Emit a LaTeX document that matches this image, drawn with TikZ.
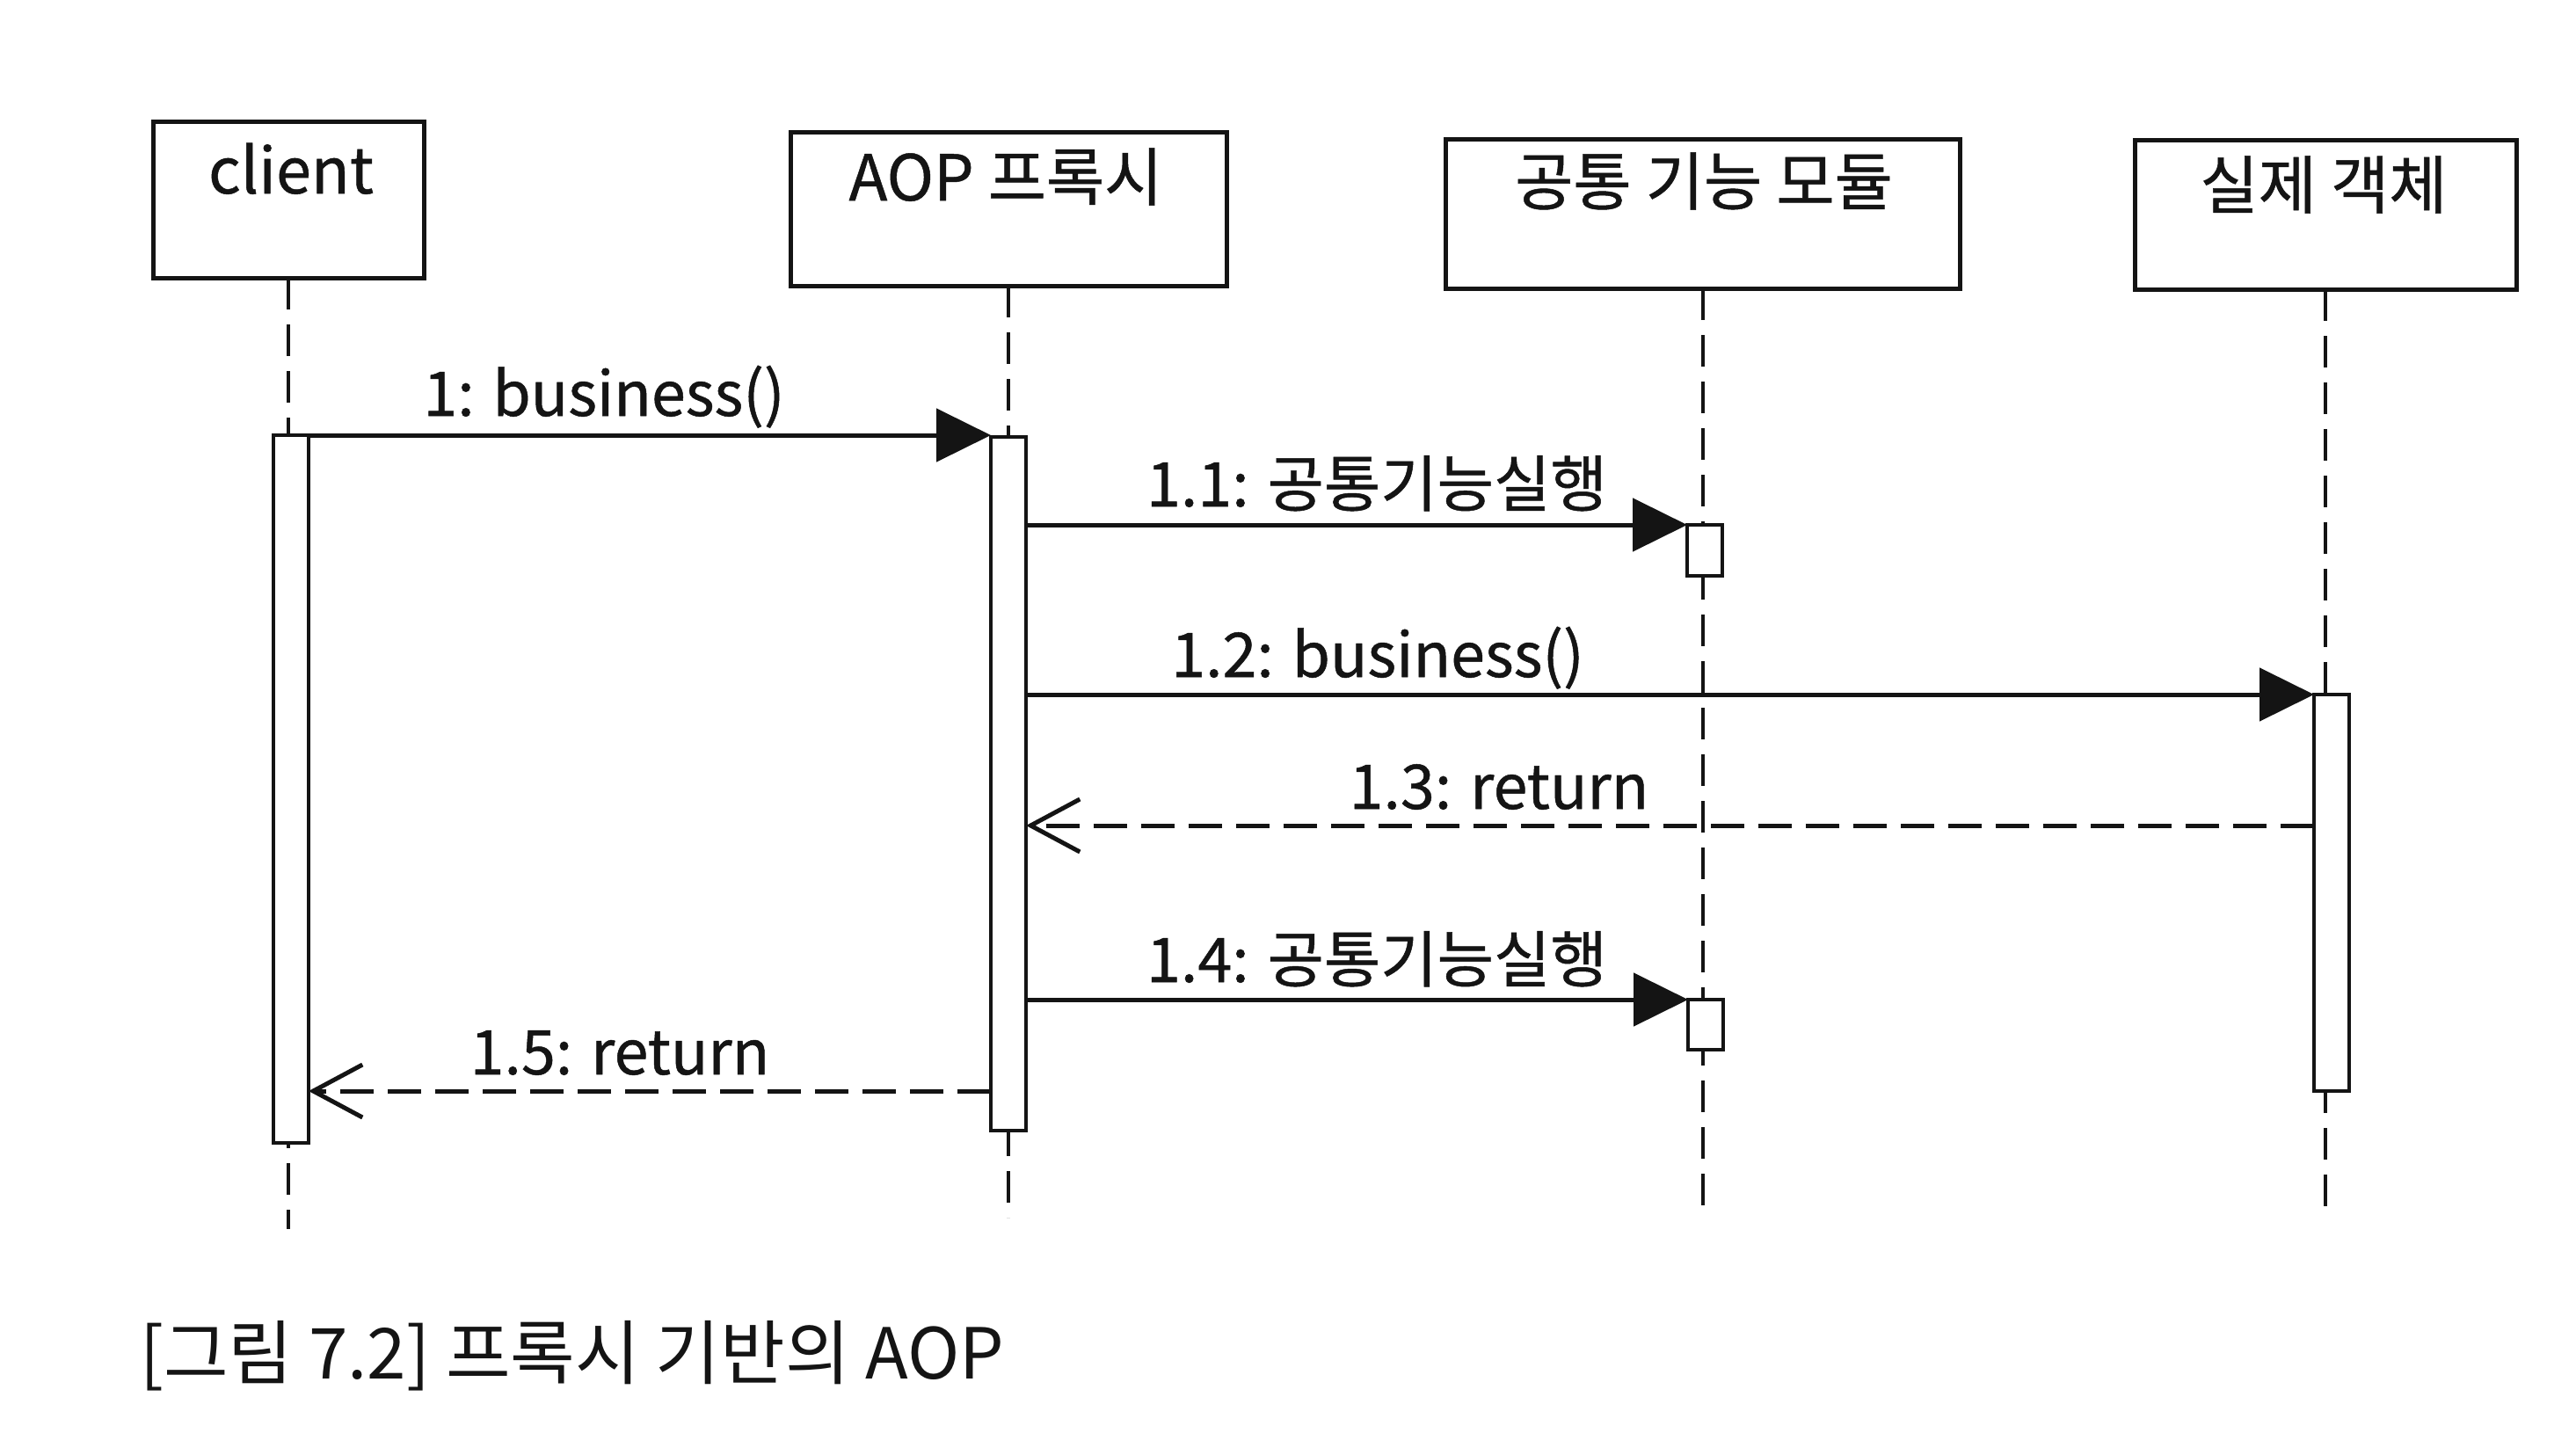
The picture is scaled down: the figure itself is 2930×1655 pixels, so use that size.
\documentclass[tikz,border=0pt]{standalone}
\usepackage{fontspec}
\setmainfont{Noto Sans CJK KR}
\newfontfamily\diafont[FakeBold=0.7]{Noto Sans CJK KR}
\usetikzlibrary{arrows.meta}
\definecolor{ink}{HTML}{141414}
\begin{document}
\begin{tikzpicture}[x=0.5pt,y=-0.5pt,
  every node/.style={text=ink, inner sep=0pt, outer sep=0pt},
  objbox/.style={draw=ink, line width=2.5pt, anchor=north west},
  objlbl/.style={anchor=base, font=\diafont\fontsize{36}{43}\selectfont},
  msglbl/.style={anchor=base, font=\diafont\fontsize{35}{42}\selectfont},
  lifeline/.style={draw=ink, line width=2pt, dash pattern=on 18pt off 8.5pt},
  actbar/.style={draw=ink, fill=white, line width=2pt, anchor=north, minimum width=20pt},
  call/.style={draw=ink, line width=2.5pt, -{Triangle[length=31pt,width=30pt]}},
  reply/.style={draw=ink, line width=2.5pt, dash pattern=on 19pt off 8pt, -{Straight Barb[length=28pt,width=30pt,line width=2.5pt]}}
]
\path[use as bounding box, fill=white] (0,0) rectangle (2930,1655);

% object boxes
\node[objbox, minimum width=154pt, minimum height=89pt] (clientbox) at (174,138) {};
\node[objbox, minimum width=248pt, minimum height=87.5pt] (aopbox) at (899,150) {};
\node[objbox, minimum width=292.5pt, minimum height=85pt] (modbox) at (1644,158) {};
\node[objbox, minimum width=217pt, minimum height=85pt] (realbox) at (2428,159) {};

\node[objlbl] (clientlbl) at (331,220) {client};
\node[objlbl] (aoplbl) at (1144,228) {AOP 프록시};
\node[objlbl] (modlbl) at (1938,233) {공통 기능 모듈};
\node[objlbl] (reallbl) at (2643,237) {실제 객체};

% lifelines
\coordinate (clientend) at (clientbox.south |- 0,1398);
\coordinate (aopend) at (aopbox.south |- 0,1385);
\coordinate (modend) at (modbox.south |- 0,1385);
\coordinate (realend) at (realbox.south |- 0,1382);
\draw[lifeline] (clientbox.south) -- (clientend);
\draw[lifeline] (aopbox.south) -- (aopend);
\draw[lifeline] (modbox.south) -- (modend);
\draw[lifeline] (realbox.south) -- (realend);

% activation bars
\node[actbar, minimum height=402.5pt] (cbar) at (331,495) {};
\node[actbar, minimum height=394.5pt] (abar) at (1147,497) {};
\node[actbar, minimum height=29pt] (mbar1) at (1939,597) {};
\node[actbar, minimum height=28.5pt] (mbar2) at (1940,1137) {};
\node[actbar, minimum height=225.5pt] (rbar) at (2652,790) {};

% messages
\draw[call] (cbar.north east) -- (cbar.north east -| abar.west);
\draw[call] (abar.east |- mbar1.north) -- (mbar1.north west);
\draw[call] (abar.east |- rbar.north) -- (rbar.north west);
\coordinate (ret13) at (rbar.west |- 0,939);
\draw[reply] (ret13) -- (abar.east |- ret13);
\draw[call] (abar.east |- mbar2.north) -- (mbar2.north west);
\coordinate (ret15) at (abar.west |- 0,1241);
\draw[reply] (ret15) -- (cbar.east |- ret15);

% message labels
\node[msglbl] (l1) at (687,473) {1: business()};
\node[msglbl] (l11) at (1566,576) {1.1: 공통기능실행};
\node[msglbl] (l12) at (1567,770) {1.2: business()};
\node[msglbl] (l13) at (1705,920) {1.3: return};
\node[msglbl] (l14) at (1566,1117) {1.4: 공통기능실행};
\node[msglbl] (l15) at (705,1222) {1.5: return};

% caption
\node[anchor=base west, font=\fontsize{40}{48}\selectfont] (caption) at (159,1568) {[그림 7.2] 프록시 기반의 AOP};
\end{tikzpicture}
\end{document}
